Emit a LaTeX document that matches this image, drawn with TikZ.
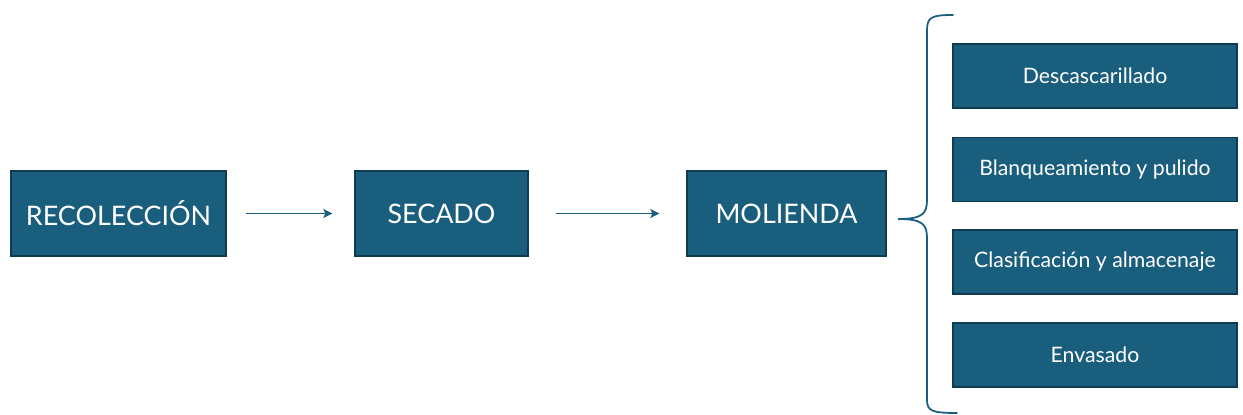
\documentclass[tikz,border=0pt]{standalone}
\usepackage{fontspec}
\setmainfont{Lato}
\usetikzlibrary{arrows.meta,scopes}

\definecolor{teal}{RGB}{26,94,126}
\definecolor{tealdark}{RGB}{16,58,80}

\begin{document}
\begin{tikzpicture}[
    x=0.02cm,y=-0.02cm,
    stage/.style={rectangle,draw=tealdark,fill=teal,text=white,thick,
        minimum height=1.7cm,font=\fontsize{15.3}{18}\selectfont},
    sub/.style={rectangle,draw=tealdark,fill=teal,text=white,thick,
        minimum width=5.68cm,minimum height=1.28cm,font=\fontsize{12.1}{14}\selectfont},
    flow/.style={draw=teal,line width=1.1pt,-{Stealth[length=1.8mm,width=1.8mm,inset=0.4mm]}},
    brace/.style={draw=teal,line width=1pt,line cap=round},
]
    \useasboundingbox (0,0) rectangle (1243,415);

    %%%
    % main stages
    \node[stage,minimum width=4.3cm] (rec) at (118.5,213.5) {RECOLECCIÓN};
    \node[stage,minimum width=3.46cm] (sec) at (441.5,213.5) {SECADO};
    \node[stage,minimum width=3.98cm] (mol) at (786.5,213.5) {MOLIENDA};

    {[flow]
        \draw[shorten <=0.38cm,shorten >=0.44cm] (rec) -- (sec);
        \draw[shorten <=0.54cm,shorten >=0.54cm] (sec) -- (mol);
    }

    %%%
    % steps of the milling
    \node[sub] (desc) at (1095,76) {Descascarillado};
    \node[sub] (blan) at (1095,169.5) {Blanqueamiento y pulido};
    \node[sub] (clas) at (1095,262) {Clasificación y almacenaje};
    \node[sub] (env) at (1095,355) {Envasado};

    % brace
    \coordinate (tip) at (898,219);
    \draw[brace] (953,15) .. controls (932,15) and (927,17) .. (927,30)
        -- (927,200) .. controls (927,214) and (922,219) .. (tip)
        .. controls (922,219) and (927,224) .. (927,238)
        -- (927,400) .. controls (927,411) and (932,413) .. (957,413);

\end{tikzpicture}
\end{document}
